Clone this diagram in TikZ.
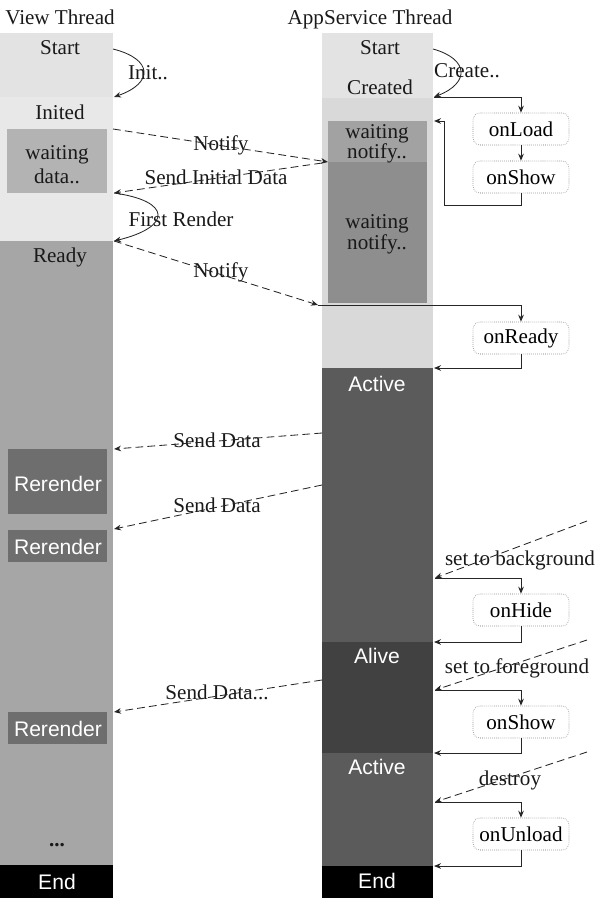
\documentclass[tikz,border=0pt]{standalone}
\usepackage{fontspec}
\setmainfont{Liberation Serif}
\setsansfont{Liberation Sans}
\usetikzlibrary{arrows.meta}
\newcommand{\labelsize}{\fontsize{15}{17}\selectfont}
\definecolor{startgray}{HTML}{E3E3E3}
\definecolor{initgray}{HTML}{E8E8E8}
\definecolor{waitgray}{HTML}{B3B3B3}
\definecolor{readygray}{HTML}{A6A6A6}
\definecolor{rendergray}{HTML}{6E6E6E}
\definecolor{loadgray}{HTML}{D9D9D9}
\definecolor{notifygray}{HTML}{A2A2A2}
\definecolor{blockgray}{HTML}{8E8E8E}
\definecolor{activegray}{HTML}{5B5B5B}
\definecolor{alivegray}{HTML}{414141}
\definecolor{linegray}{HTML}{262626}
\tikzstyle{note} =[inner sep=0pt, anchor=base, text=black!90]
\tikzstyle{phase} =[note]
\tikzstyle{state} =[inner sep=0pt, anchor=base, text=white, font=\labelsize\sffamily]
\tikzstyle{hook} =[rectangle, rounded corners=5pt, minimum width=2.4cm, minimum height=0.8cm, text centered, draw=black!60, densely dotted, fill=white]
\tikzstyle{arrow} =[line width=0.6pt, draw=linegray, -{Stealth[length=5pt,width=4pt]}]
\tikzstyle{msg} =[arrow, dash pattern=on 5.5pt off 3pt]

\begin{document}
\begin{tikzpicture}[x=0.025cm, y=-0.025cm, font=\labelsize, node distance=1.2cm]
\useasboundingbox (0,0) rectangle (604,900);

% view thread
\fill[startgray] (0,33) rectangle (113,97);
\fill[initgray] (0,97) rectangle (113,241);
\fill[waitgray] (7,129) rectangle (107,193);
\fill[readygray] (0,241) rectangle (113,865);
\fill[rendergray] (8,449) rectangle (107,514);
\fill[rendergray] (8,530) rectangle (107,562);
\fill[rendergray] (8,712) rectangle (107,744);
\fill[black] (0,865) rectangle (113,898);

% appservice thread
\fill[startgray] (322,33) rectangle (433,98);
\fill[loadgray] (322,98) rectangle (433,368);
\fill[notifygray] (328,121) rectangle (427,162);
\fill[blockgray] (328,162) rectangle (427,303);
\fill[activegray] (322,368) rectangle (433,642);
\fill[alivegray] (322,642) rectangle (433,753);
\fill[activegray] (322,753) rectangle (433,866);
\fill[black] (322,866) rectangle (433,898);

\node (vTitle) [note] at (60,25) {View Thread};
\node (aTitle) [note] at (370,25) {AppService Thread};

\node (vStart) [phase] at (60,55) {Start};
\node (vInited) [phase] at (60,119) {Inited};
\node (vWait) [phase, anchor=center, align=center] at (57,165) {waiting\\data..};
\node (vReady) [phase] at (60,262) {Ready};
\node (vRender1) [state] at (58,491) {Rerender};
\node (vRender2) [state] at (58,554) {Rerender};
\node (vRender3) [state] at (58,736) {Rerender};
\node (vMore) [phase, font=\labelsize\bfseries] at (57,846) {...};
\node (vEnd) [state] at (57,889) {End};

\node (aStart) [phase] at (380,55) {Start};
\node (aCreated) [phase] at (380,94) {Created};
\node (aWait1) [phase, anchor=center, align=center] at (377,144) {waiting\\[-2.8pt]notify..};
\node (aWait2) [phase, anchor=center, align=center] at (377,234) {waiting\\[-2.1pt]notify..};
\node (aActive) [state] at (377,391) {Active};
\node (aAlive) [state] at (377,663) {Alive};
\node (aActive2) [state] at (377,774) {Active};
\node (aEnd) [state] at (377,888) {End};

\node (onLoad) [hook] at (521,129) {onLoad};
\node (onShow) [hook, below of=onLoad] {onShow};
\node (onReady) [hook] at (521,338) {onReady};
\node (onHide) [hook] at (521,610) {onHide};
\node (onShowB) [hook] at (521,722) {onShow};
\node (onUnload) [hook] at (521,834) {onUnload};

\node (lInit) [note] at (148,80) {Init..};
\node (lCreate) [note] at (467,77) {Create..};
\node (lFirst) [note] at (181,226) {First Render};
\node (lNotify1) [note] at (221,150) {Notify};
\node (lInitData) [note] at (216,184) {Send Initial Data};
\node (lNotify2) [note] at (221,277) {Notify};
\node (lData1) [note] at (217,447) {Send Data};
\node (lData2) [note] at (217,512) {Send Data};
\node (lData3) [note] at (217,699) {Send Data...};
\node (lBg) [note] at (520,565) {set to background};
\node (lFg) [note] at (517,673) {set to foreground};
\node (lDestroy) [note] at (510,785) {destroy};

\coordinate (vS) at (113,49);
\coordinate (vI) at (114,97);
\coordinate (vN) at (113,129);
\coordinate (vD) at (114,193);
\coordinate (vR) at (114,241);
\coordinate (vR1) at (114,449);
\coordinate (vR2) at (114,529);
\coordinate (vR3) at (114,712);
\coordinate (aS) at (433,49);
\coordinate (aC) at (434,97);
\coordinate (aW) at (434,121);
\coordinate (aN) at (328,162);
\coordinate (aI) at (322,163);
\coordinate (aR) at (318,305);
\coordinate (aA) at (434,368);
\coordinate (aD1) at (322,433);
\coordinate (aD2) at (322,485);
\coordinate (aD3) at (322,680);
\coordinate (aH) at (435,578);
\coordinate (aV) at (434,642);
\coordinate (aF) at (435,690);
\coordinate (aB) at (434,753);
\coordinate (aX) at (435,802);
\coordinate (aE) at (434,866);
\coordinate (bg) at (587,521);
\coordinate (fg) at (587,640);
\coordinate (ds) at (587,752);
\coordinate (loop) at (444,205);

\draw [arrow] (vS) .. controls +(40,10) and +(40,-14) .. (vI);
\draw [arrow] (aS) .. controls +(36,10) and +(36,-14) .. (aC);
\draw [arrow] (vD) .. controls +(58,8) and +(58,-14) .. (vR);
\draw [msg] (vN) -- (aN);
\draw [msg] (aI) -- (vD);
\draw [msg] (vR) -- (aR);
\draw [msg] (aD1) -- (vR1);
\draw [msg] (aD2) -- (vR2);
\draw [msg] (aD3) -- (vR3);
\draw [msg] (bg) -- (aH);
\draw [msg] (fg) -- (aF);
\draw [msg] (ds) -- (aX);
\draw [arrow] (aC) -| (onLoad.north);
\draw [arrow] (onLoad) -- (onShow);
\draw [arrow] (onShow.south) |- (loop) |- (aW);
\draw [arrow] (aR) -| (onReady.north);
\draw [arrow] (onReady.south) |- (aA);
\draw [arrow] (aH) -| (onHide.north);
\draw [arrow] (onHide.south) |- (aV);
\draw [arrow] (aF) -| (onShowB.north);
\draw [arrow] (onShowB.south) |- (aB);
\draw [arrow] (aX) -| (onUnload.north);
\draw [arrow] (onUnload.south) |- (aE);
\end{tikzpicture}
\end{document}
